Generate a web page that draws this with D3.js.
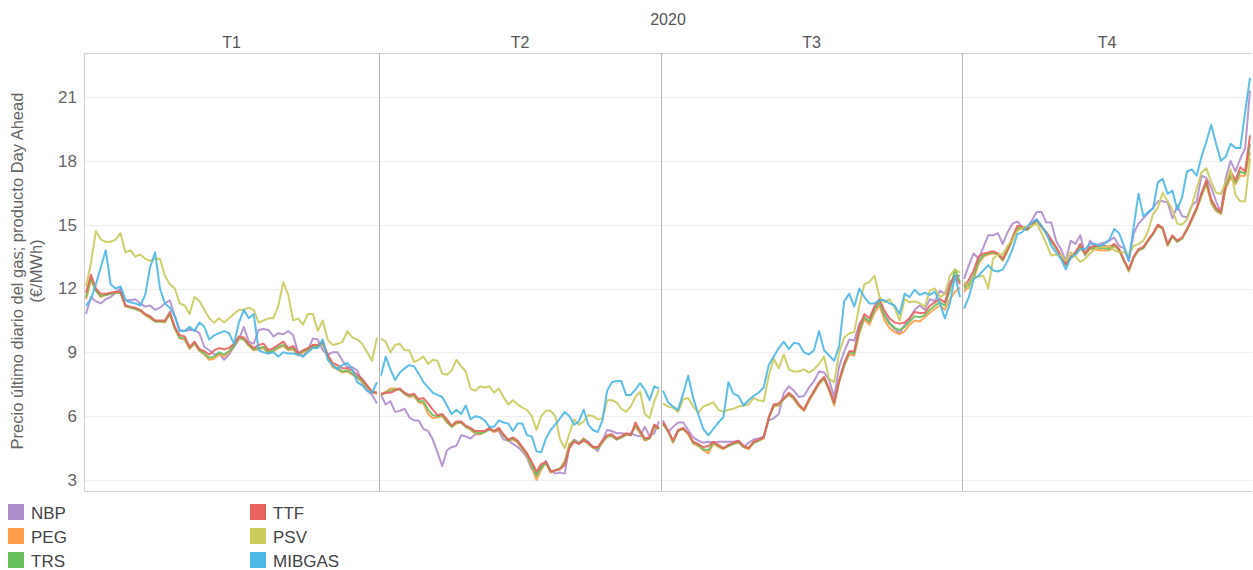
<!DOCTYPE html>
<html>
<head>
<meta charset="utf-8">
<script src="https://cdn.jsdelivr.net/npm/d3@7"></script>
<style>
  html, body { margin: 0; padding: 0; background: #fff; }
  svg { display: block; font-family: "Liberation Sans", Arial, sans-serif; }
</style>
</head>
<body>
<svg id="chart" width="1253" height="570"></svg>
<script>
// ---------------- DATA ----------------
const yearLabel = "2020";
const quarters = ["T1", "T2", "T3", "T4"];
const yTicks = [3, 6, 9, 12, 15, 18, 21];
const yTitle = ["Precio último diario del gas; producto Day Ahead", "(€/MWh)"];
const seriesNames = ["NBP", "PEG", "TRS", "TTF", "PSV", "MIBGAS"];

const NBP = [
  [10.8,11.6,11.4,11.3,11.5,11.6,11.8,12.0,11.45,11.45,11.5,11.3,11.15,11.2,11.0,11.1,11.3,11.45,10.7,10.05,10.0,10.05,10.05,9.9,9.25,9.1,8.9,8.95,8.65,8.9,9.25,9.6,10.2,9.5,9.4,10.05,10.1,10.05,9.75,9.9,9.85,10.0,9.8,9.0,8.8,9.1,9.65,9.6,9.1,8.9,9.0,9.0,8.6,8.3,8.3,8.15,7.6,7.2,7.0,6.6],
  [7.0,6.55,6.7,6.2,6.25,6.35,5.95,5.8,5.8,5.4,5.3,4.9,4.3,3.65,4.4,4.55,4.6,5.1,5.05,4.95,5.15,5.15,5.3,5.35,5.3,5.3,4.9,4.85,4.7,4.55,4.35,4.05,3.5,3.3,3.65,3.9,3.45,3.3,3.35,3.3,4.65,4.9,4.75,4.95,4.8,4.55,4.35,4.85,5.35,5.3,5.2,5.2,5.15,5.2,5.1,5.05,5.5,5.05,5.2,5.75],
  [5.8,5.25,5.5,5.7,5.7,5.35,5.0,4.85,4.75,4.8,4.75,4.8,4.8,4.8,4.8,4.85,4.55,4.75,4.9,4.95,5.05,5.8,5.9,6.1,7.1,7.4,7.2,6.9,6.95,7.35,7.65,8.1,8.05,7.7,6.9,8.35,9.05,9.6,9.55,10.35,10.65,10.4,11.1,11.2,10.8,10.4,10.1,9.9,10.3,10.6,11.0,11.2,11.0,11.5,11.4,11.9,11.75,12.3,12.6,12.6],
  [12.45,13.1,13.65,13.4,13.95,14.5,14.5,14.6,14.1,14.65,15.05,15.15,14.9,14.85,15.2,15.6,15.6,15.1,15.1,14.25,13.85,13.3,14.25,14.1,14.5,13.55,14.25,14.0,14.1,14.15,14.25,14.4,14.0,13.9,13.3,14.6,15.05,15.3,15.55,15.8,16.1,16.1,16.05,15.3,15.9,15.4,15.35,15.9,16.1,17.3,17.2,16.75,16.1,15.6,17.2,18.0,17.5,18.1,18.6,21.3]
];
const PEG = [
  [11.5,12.4,11.9,11.6,11.7,11.75,11.8,11.8,11.15,11.1,11.05,10.95,10.75,10.6,10.45,10.45,10.4,10.8,10.1,9.65,9.6,9.15,9.4,9.05,8.9,8.65,8.7,8.9,8.8,9.0,9.3,9.65,9.6,9.3,9.1,9.15,9.2,8.95,9.05,9.2,9.3,9.1,9.15,8.85,9.0,9.1,9.25,9.25,9.4,8.75,8.3,8.2,8.05,8.1,7.95,7.8,7.6,7.35,7.1,7.05],
  [7.0,7.15,7.3,7.3,7.25,7.05,6.9,6.95,6.65,6.6,6.1,5.9,5.95,6.0,5.7,5.5,5.65,5.7,5.5,5.35,5.2,5.15,5.25,5.4,5.25,5.35,5.1,4.85,4.9,4.75,4.45,4.15,3.6,3.0,3.5,3.8,3.35,3.45,3.55,3.9,4.7,4.85,4.7,4.95,4.7,4.5,4.5,4.75,5.05,5.05,4.9,5.0,5.1,5.15,5.5,5.2,4.85,4.95,5.5,5.4],
  [5.6,5.3,4.75,5.3,5.4,5.15,4.7,4.6,4.4,4.25,4.7,4.55,4.45,4.6,4.7,4.75,4.55,4.45,4.75,4.85,4.95,5.9,6.45,6.5,6.8,7.0,6.8,6.45,6.25,6.7,7.1,7.5,7.75,7.2,6.5,7.6,8.35,8.9,8.85,9.9,10.55,10.3,10.85,11.2,10.5,10.15,9.95,9.85,10.0,10.3,10.5,10.45,10.65,10.85,11.05,11.2,11.0,11.5,11.85,12.05],
  [11.85,12.1,12.45,13.15,13.5,13.6,13.65,13.6,13.3,13.8,14.25,14.8,14.8,14.75,14.95,15.2,14.95,14.55,14.2,13.9,13.5,13.1,13.4,13.6,13.9,13.6,13.85,13.85,13.8,13.8,13.8,14.0,13.8,13.3,12.8,13.45,13.8,13.9,14.25,14.55,14.95,14.8,14.0,14.45,14.2,14.35,14.75,15.2,15.7,16.35,16.9,16.0,15.65,15.5,16.7,17.2,16.9,17.3,17.3,18.4]
];
const TRS = [
  [11.6,12.5,11.9,11.65,11.7,11.75,11.8,11.8,11.2,11.1,11.05,10.95,10.8,10.65,10.45,10.45,10.45,10.8,10.15,9.7,9.65,9.2,9.45,9.1,8.95,8.75,8.8,9.0,8.9,9.05,9.3,9.7,9.6,9.35,9.15,9.2,9.25,9.0,9.1,9.25,9.35,9.15,9.2,8.9,9.05,9.15,9.3,9.3,9.45,8.8,8.4,8.25,8.1,8.15,8.0,7.85,7.65,7.4,7.15,7.1],
  [7.0,7.1,7.2,7.25,7.25,7.05,6.95,7.0,6.7,6.7,6.3,6.05,6.0,6.05,5.75,5.5,5.7,5.7,5.5,5.4,5.25,5.2,5.25,5.4,5.3,5.4,5.1,4.85,4.95,4.8,4.5,4.2,3.7,3.2,3.6,3.8,3.4,3.45,3.55,3.8,4.6,4.85,4.7,4.9,4.7,4.55,4.5,4.8,5.05,5.1,4.9,5.0,5.15,5.1,5.6,5.25,4.9,4.95,5.55,5.4],
  [5.65,5.3,4.8,5.3,5.4,5.2,4.75,4.65,4.45,4.4,4.75,4.6,4.5,4.6,4.7,4.8,4.55,4.5,4.75,4.85,5.0,5.9,6.5,6.55,6.8,7.05,6.85,6.5,6.3,6.75,7.15,7.55,7.8,7.25,6.6,7.65,8.4,9.0,8.95,10.0,10.65,10.45,11.0,11.35,10.7,10.35,10.15,10.05,10.2,10.45,10.7,10.65,10.75,11.0,11.2,11.35,11.2,11.9,12.9,12.3],
  [12.0,12.2,12.6,13.3,13.55,13.65,13.7,13.6,13.35,13.8,14.3,14.85,14.85,14.75,14.95,15.2,14.9,14.6,14.25,13.9,13.5,13.1,13.45,13.65,14.0,13.6,13.9,13.9,13.9,13.9,13.85,14.05,13.8,13.3,12.85,13.45,13.8,13.9,14.25,14.55,15.0,14.8,14.05,14.45,14.2,14.35,14.75,15.25,15.75,16.4,17.0,16.1,15.7,15.55,16.8,17.3,17.0,17.5,17.4,18.8]
];
const TTF = [
  [11.8,12.65,12.0,11.75,11.75,11.8,11.85,11.85,11.2,11.15,11.1,11.0,10.8,10.7,10.5,10.5,10.5,10.9,10.2,9.8,9.75,9.25,9.5,9.15,9.05,8.9,9.1,9.2,9.15,9.2,9.4,9.75,9.7,9.4,9.2,9.35,9.4,9.1,9.2,9.35,9.5,9.2,9.3,8.95,9.1,9.2,9.35,9.35,9.5,8.9,8.5,8.4,8.25,8.25,8.15,7.95,7.75,7.45,7.15,7.1],
  [7.05,7.1,7.1,7.2,7.3,7.1,7.0,7.05,6.8,6.85,6.6,6.3,6.05,6.1,5.85,5.55,5.75,5.75,5.55,5.45,5.3,5.3,5.3,5.45,5.3,5.45,5.15,4.9,5.0,4.85,4.55,4.25,3.85,3.4,3.75,3.85,3.4,3.45,3.5,3.7,4.5,4.8,4.7,4.85,4.75,4.55,4.55,4.85,5.1,5.15,4.95,5.05,5.2,5.1,5.7,5.3,4.95,5.0,5.6,5.45],
  [5.7,5.35,4.85,5.35,5.45,5.2,4.8,4.7,4.55,4.6,4.8,4.65,4.5,4.65,4.75,4.85,4.6,4.5,4.8,4.9,5.0,5.95,6.55,6.6,6.85,7.1,6.9,6.55,6.3,6.8,7.2,7.6,7.85,7.3,6.65,7.7,8.5,9.05,9.05,10.2,10.8,10.6,11.15,11.5,10.95,10.6,10.4,10.35,10.4,10.6,10.9,10.85,10.85,11.2,11.35,11.5,11.35,12.15,12.6,12.2],
  [12.1,12.4,12.85,13.5,13.65,13.7,13.75,13.65,13.4,13.85,14.4,14.95,14.9,14.8,15.0,15.25,14.9,14.65,14.3,13.95,13.55,13.15,13.5,13.7,14.1,13.65,13.95,14.0,14.0,14.0,13.95,14.1,13.85,13.35,12.9,13.5,13.85,13.95,14.3,14.6,15.0,14.85,14.1,14.5,14.25,14.4,14.8,15.3,15.8,16.5,17.1,16.2,15.8,15.6,16.9,17.5,17.1,17.7,17.5,19.2]
];
const PSV = [
  [12.1,13.2,14.7,14.3,14.2,14.2,14.3,14.6,13.7,13.8,13.5,13.6,13.4,13.3,13.4,13.4,12.6,12.2,12.0,11.3,11.2,10.8,11.6,11.4,11.0,10.6,10.4,10.6,10.4,10.6,10.8,11.0,11.0,11.1,11.0,10.4,10.5,10.6,10.6,11.2,12.3,11.7,10.5,10.6,10.3,10.8,10.8,10.0,10.5,9.6,9.35,9.4,9.5,10.0,9.7,9.6,9.4,9.0,8.6,9.7],
  [9.65,9.5,9.0,9.35,9.4,9.1,9.1,8.55,8.65,8.8,8.45,8.65,8.6,8.0,7.95,8.15,8.65,8.35,8.1,7.3,7.2,7.4,7.35,7.4,7.1,7.3,6.9,6.55,6.75,6.55,6.4,6.3,6.0,5.35,6.0,6.25,6.25,6.0,4.9,4.5,5.2,5.85,5.6,5.75,6.05,6.0,5.85,5.9,6.75,6.75,6.65,6.35,6.2,6.45,6.9,7.15,6.1,5.9,6.7,7.25],
  [6.6,6.45,6.4,6.2,6.8,6.85,6.45,6.15,6.45,6.55,6.65,6.3,6.2,6.3,6.35,6.45,6.5,6.55,6.85,6.75,6.7,7.9,8.7,8.25,8.9,8.2,8.1,8.1,8.2,8.05,8.2,8.45,8.8,7.75,7.6,9.0,9.7,9.9,9.95,11.2,12.2,12.3,12.6,11.6,11.35,11.5,11.1,10.5,11.5,11.35,11.4,11.3,11.15,11.9,12.0,11.6,11.75,12.6,12.9,12.75],
  [12.3,12.0,12.55,12.55,12.6,12.0,13.4,13.6,13.6,14.0,14.3,14.7,14.85,14.9,14.95,15.05,14.6,14.1,13.55,13.6,13.55,13.3,13.7,13.5,13.25,13.4,13.65,13.85,13.95,13.95,14.0,13.8,13.7,13.7,13.6,14.0,14.1,14.25,14.7,15.5,15.8,16.5,16.1,15.7,15.05,15.0,15.25,15.9,16.7,17.45,17.65,17.0,16.5,16.45,17.0,17.6,16.4,16.1,16.1,18.1]
];
const MIBGAS = [
  [11.2,11.5,12.2,13.0,13.8,12.2,12.0,12.1,11.45,11.35,11.3,11.2,11.7,13.0,13.7,12.0,11.3,11.1,10.7,10.0,10.0,10.2,10.0,10.4,10.2,9.6,9.8,9.9,10.0,9.9,9.4,10.4,11.0,10.6,10.8,9.1,9.0,8.95,9.0,8.8,9.0,8.95,8.95,8.9,8.8,9.0,9.2,9.2,9.6,8.65,8.4,8.2,8.4,8.5,8.2,7.6,7.45,7.2,7.1,7.6],
  [7.9,8.8,8.2,7.7,8.05,8.25,8.4,8.35,8.0,7.6,7.35,7.1,7.0,6.9,6.5,6.1,6.3,6.1,6.5,5.85,6.0,5.95,5.8,5.5,5.5,5.8,5.7,5.65,5.3,5.65,5.65,5.1,5.05,4.35,4.3,4.95,5.35,5.6,5.9,6.2,6.0,5.6,5.75,6.3,5.6,5.35,5.25,5.8,7.2,7.6,7.65,7.65,7.0,7.0,7.25,7.55,7.25,6.75,7.4,7.3],
  [7.2,6.65,6.45,6.3,7.05,7.9,6.85,6.1,5.4,5.1,5.4,5.7,5.95,7.6,7.05,6.95,6.5,6.75,6.95,7.1,7.35,8.4,8.8,9.2,9.5,9.15,9.45,9.4,9.0,8.9,9.1,10.0,9.1,8.85,8.6,9.3,11.4,11.75,11.15,12.0,11.6,11.3,11.3,11.45,11.45,11.3,11.2,10.8,11.75,11.6,11.95,11.7,11.8,11.7,11.85,11.3,10.6,11.3,12.6,11.6],
  [11.05,11.6,12.45,12.6,12.85,13.1,12.85,12.8,12.9,13.3,13.85,14.55,14.65,14.9,15.1,15.25,14.95,14.6,14.0,13.7,13.4,12.9,13.45,13.6,13.85,13.85,14.1,14.1,14.0,14.1,14.3,14.8,14.6,14.0,13.3,14.9,16.45,15.4,15.6,15.75,17.0,17.15,16.45,16.6,15.7,16.3,17.5,17.6,17.3,18.2,18.9,19.7,18.8,18.0,18.2,18.8,18.6,18.6,20.3,21.9]
];

const seriesData = [NBP, PEG, TRS, TTF, PSV, MIBGAS];
const seriesColors = ["#AF8DCB", "#FF9E4A", "#67BF5C", "#E8625E", "#CACB5B", "#4BB8E6"];

// ---------------- LAYOUT ----------------
const svg = d3.select("#chart");
const plotTop = 53, plotBottom = 491, plotLeft = 84, plotRight = 1252;
const panelEdges = [84, 379, 661, 962, 1252];

const y = d3.scaleLinear().domain([2.483, 23.07]).range([plotBottom, plotTop]);

// gridlines
const grid = svg.append("g");
grid.selectAll("line").data(yTicks).join("line")
  .attr("x1", plotLeft).attr("x2", plotRight)
  .attr("y1", d => Math.round(y(d)) + 0.5).attr("y2", d => Math.round(y(d)) + 0.5)
  .attr("stroke", "#efefef").attr("stroke-width", 1);

// y axis labels
const yAxis = d3.axisLeft(y).tickValues(yTicks).tickSize(0).tickPadding(7);
const gy = svg.append("g").attr("transform", `translate(${plotLeft},0)`).call(yAxis);
gy.select(".domain").remove();
gy.selectAll("text").attr("font-size", 17).attr("fill", "#666")
  .attr("font-family", "Liberation Sans, Arial, sans-serif");

// y title
const yt = svg.append("text")
  .attr("transform", `translate(23,271) rotate(-90)`)
  .attr("text-anchor", "middle").attr("font-size", 16.5).attr("fill", "#666");
yt.append("tspan").attr("x", 0).attr("dy", 0).text(yTitle[0]);
yt.append("tspan").attr("x", 0).attr("dy", 19).text(yTitle[1]);

// year + quarter headers
svg.append("text").attr("x", (plotLeft + plotRight) / 2).attr("y", 25)
  .attr("text-anchor", "middle").attr("font-size", 16).attr("fill", "#555").text(yearLabel);

quarters.forEach((q, qi) => {
  svg.append("text").attr("x", (panelEdges[qi] + panelEdges[qi + 1]) / 2).attr("y", 48)
    .attr("text-anchor", "middle").attr("font-size", 16).attr("fill", "#555").text(q);
});

// frame
const frame = svg.append("g").attr("fill", "none");
frame.append("line").attr("x1", plotLeft).attr("x2", plotRight).attr("y1", plotTop + 0.5).attr("y2", plotTop + 0.5)
  .attr("stroke", "#cfcfcf");
frame.append("line").attr("x1", plotLeft).attr("x2", plotRight).attr("y1", plotBottom + 0.5).attr("y2", plotBottom + 0.5)
  .attr("stroke", "#cfcfcf");
frame.append("line").attr("x1", plotLeft + 0.5).attr("x2", plotLeft + 0.5).attr("y1", plotTop).attr("y2", plotBottom)
  .attr("stroke", "#cfcfcf");
panelEdges.slice(1, 4).forEach(px => {
  frame.append("line").attr("x1", px + 0.5).attr("x2", px + 0.5).attr("y1", plotTop).attr("y2", plotBottom)
    .attr("stroke", "#b8b8b8");
});

// lines
const linesG = svg.append("g");
quarters.forEach((q, qi) => {
  const n = seriesData[0][qi].length;
  const x = d3.scaleLinear().domain([0, n - 1]).range([panelEdges[qi] + 2, panelEdges[qi + 1] - 2]);
  const line = d3.line().x((d, i) => x(i)).y(d => y(d));
  seriesData.forEach((s, si) => {
    linesG.append("path").datum(s[qi])
      .attr("d", line).attr("fill", "none")
      .attr("stroke", seriesColors[si]).attr("stroke-width", 2)
      .attr("stroke-linejoin", "round").attr("stroke-opacity", 0.9);
  });
});

// legend (column-major: 3 rows x 2 columns)
const legend = svg.append("g");
seriesNames.forEach((name, i) => {
  const col = Math.floor(i / 3), row = i % 3;
  const lx = col === 0 ? 8 : 250;
  const ly = 504 + row * 24;
  const g = legend.append("g").attr("transform", `translate(${lx},${ly})`);
  g.append("rect").attr("width", 16).attr("height", 16).attr("fill", seriesColors[i]);
  g.append("text").attr("x", 23).attr("y", 14.5).attr("font-size", 17).attr("fill", "#444").text(name);
});
</script>
</body>
</html>
